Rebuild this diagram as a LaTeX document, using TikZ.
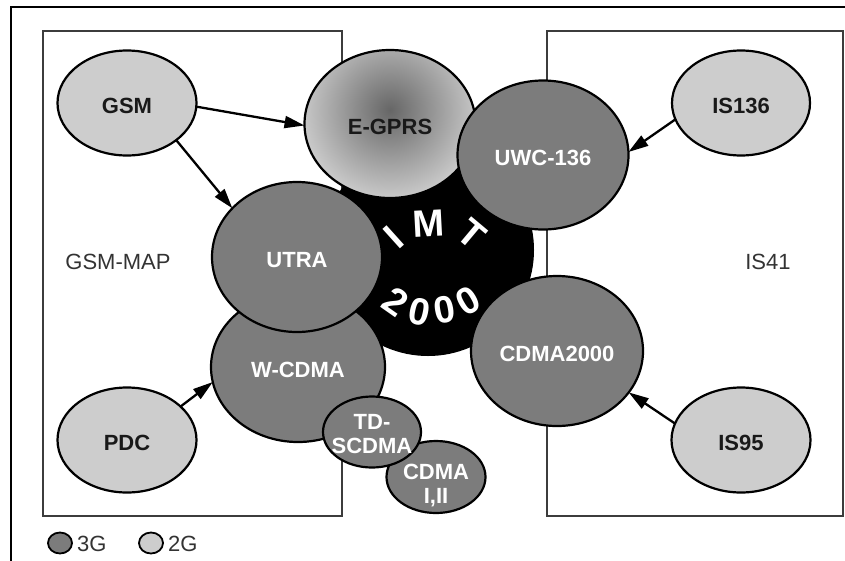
\documentclass[tikz,border=0pt]{standalone}
\usepackage{fontspec}
\setmainfont{Liberation Sans}
\usetikzlibrary{shapes.geometric,arrows.meta}
\definecolor{twog}{HTML}{CDCDCD}
\definecolor{threeg}{HTML}{7C7C7C}
\definecolor{boxline}{HTML}{3C3C3C}
\definecolor{egcore}{HTML}{666666}
\tikzset{
  blob/.style={ellipse, draw=black, line width=2.2pt, inner sep=0pt, outer sep=0pt},
  twogen/.style={blob, fill=twog},
  threegen/.style={blob, fill=threeg},
  darklbl/.style={font=\bfseries\fontsize{22}{24}\selectfont, text=black!90, align=center, inner sep=0pt, yshift=-3pt},
  lightlbl/.style={font=\bfseries\fontsize{22}{24}\selectfont, text=white, align=center, inner sep=0pt, yshift=-3pt},
  area/.style={draw=boxline, line width=2pt, inner sep=0pt, anchor=north west},
  arealbl/.style={font=\fontsize{22}{24}\selectfont, text=black!80, inner sep=0pt},
  arr/.style={line width=2.3pt, -{Triangle[length=20pt,width=12pt]}},
  bigletter/.style={font=\bfseries\fontsize{38}{38}\selectfont, text=white, inner sep=0pt},
}
\begin{document}
\begin{tikzpicture}[x=1pt,y=-1pt]
\useasboundingbox (0,0) rectangle (845,560);
\clip (0,0) rectangle (845,560);

% outer frame (runs off the page at right and bottom)
\draw[line width=2.4pt] (11,570) -- (11,7) -- (860,7);

% the two network-family areas
\node[area, minimum width=299pt, minimum height=485pt] (gsmarea) at (42,30) {};
\node[area, minimum width=296pt, minimum height=485pt] (isarea) at (546,30) {};
\node[arealbl] (gsmmap) at (118,262) {GSM-MAP};
\node[arealbl] (is41) at (768,262) {IS41};

% IMT-2000 core
\node[circle, fill=black, minimum size=212pt, inner sep=0pt] (imt) at (428,250) {};

% members of the family
\node[twogen, minimum width=171pt, minimum height=148pt,
      path picture={\shade[inner color=egcore, outer color=twog]
        ([yshift=14pt]path picture bounding box.center) circle (92pt);},
      label={[darklbl]center:E-GPRS}] (egprs) at (390,124) {};
\node[threegen, minimum width=171pt, minimum height=149pt,
      label={[lightlbl]center:UWC-136}] (uwc) at (543,155) {};
\node[threegen, minimum width=174pt, minimum height=150pt,
      label={[lightlbl]center:W-CDMA}] (wcdma) at (298,367) {};
\node[threegen, minimum width=170pt, minimum height=150pt,
      label={[lightlbl]center:UTRA}] (utra) at (297,257) {};
\node[threegen, minimum width=172pt, minimum height=150pt,
      label={[lightlbl]center:CDMA2000}] (cdma2000) at (557,351) {};
\node[threegen, minimum width=99pt, minimum height=72pt,
      label={[lightlbl, yshift=-6pt]center:{CDMA\\I,II}}] (cdmaii) at (436,477) {};
\node[threegen, minimum width=98pt, minimum height=71pt,
      label={[lightlbl, yshift=1pt]center:{TD-\\SCDMA}}] (tdscdma) at (372,432) {};

% second generation systems
\node[twogen, minimum width=139pt, minimum height=105pt,
      label={[darklbl]center:GSM}] (gsm) at (127,103) {};
\node[twogen, minimum width=138pt, minimum height=105pt,
      label={[darklbl]center:IS136}] (is136) at (741,103) {};
\node[twogen, minimum width=139pt, minimum height=105pt,
      label={[darklbl]center:PDC}] (pdc) at (127,440) {};
\node[twogen, minimum width=139pt, minimum height=105pt,
      label={[darklbl]center:IS95}] (is95) at (741,440) {};

% IMT 2000 lettering
\node[bigletter, rotate=42] (imtI) at (394,237) {I};
\node[bigletter, rotate=3] (imtM) at (429,224) {M};
\node[bigletter, rotate=-40] (imtT) at (472,234) {T};
\node[bigletter, rotate=-35] (yrA) at (396,302) {2};
\node[bigletter, rotate=-12] (yrB) at (420,312) {0};
\node[bigletter, rotate=10] (yrC) at (445,310) {0};
\node[bigletter, rotate=30] (yrD) at (468,301) {0};

% evolution paths
\draw[arr] (gsm.-3) -- (egprs.181);
\draw[arr] (gsm.-37) -- (utra.143);
\draw[arr] (is136.194) -- (uwc.2);
\draw[arr] (is95.166) -- (cdma2000.-30);
\draw[arr] (pdc.32) -- (wcdma.190);

% legend
\node[threegen, line width=1.8pt, minimum width=24pt, minimum height=21pt] (leg3) at (60,543) {};
\node[arealbl, anchor=west] (leg3txt) at (77,544) {3G};
\node[twogen, line width=1.8pt, minimum width=24pt, minimum height=21pt] (leg2) at (151,543) {};
\node[arealbl, anchor=west] (leg2txt) at (168,544) {2G};
\end{tikzpicture}
\end{document}
